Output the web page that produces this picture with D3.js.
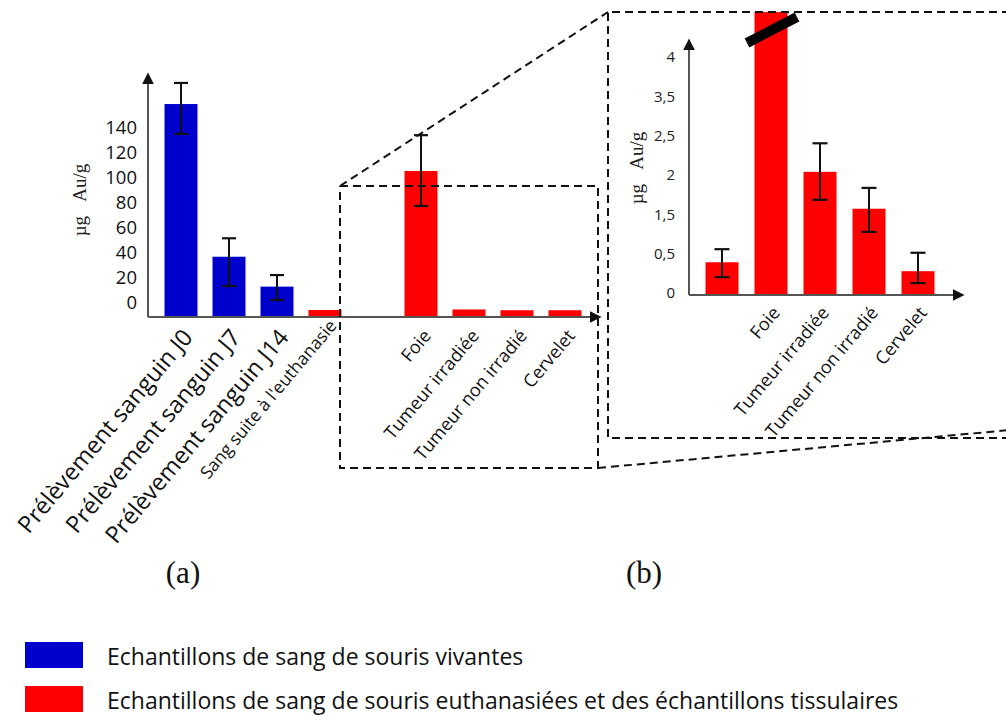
<!DOCTYPE html>
<html><head><meta charset="utf-8">
<script src="https://cdn.jsdelivr.net/npm/d3@7"></script>
<style>body{margin:0;background:#fff} svg{display:block}</style>
</head><body>
<svg id="c" width="1006" height="716"></svg>
<script>
// ---------- data ----------
const leftCategories = ["Prélèvement sanguin J0","Prélèvement sanguin J7","Prélèvement sanguin J14","Sang suite à l'euthanasie","Foie","Tumeur irradiée","Tumeur non irradié","Cervelet"];
const leftValues  = [168.8, 47.2, 23.4, 4.8, 115.5, 5.2, 4.6, 4.6];
const leftErrLow  = [145, 23.9, 12.7, null, 87.6, null, null, null];
const leftErrHigh = [185.6, 61.9, 32.6, null, 144, null, null, null];
const leftGroup   = [0, 0, 0, 1, 1, 1, 1, 1];
const leftTicks   = [0, 20, 40, 60, 80, 100, 120, 140];

const rightCategories = ["Sang suite à l'euthanasie","Foie","Tumeur irradiée","Tumeur non irradié","Cervelet"];
const rightLabels     = ["","Foie","Tumeur irradiée","Tumeur non irradié","Cervelet"];
const rightValues     = [0.55, 115.5, 2.07, 1.45, 0.40];
const rightErrLow     = [0.30, null, 1.60, 1.06, 0.20];
const rightErrHigh    = [0.77, null, 2.55, 1.80, 0.71];
const rightTickLabels = ["0","0,5","1,5","2","2,5","3,5","4"];

const legendLabels = ["Echantillons de sang de souris vivantes","Echantillons de sang de souris euthanasiées et des échantillons tissulaires"];
const groupColors  = ["#0000cc","#ff0000"];
const yTitle = "µg\u00a0\u00a0\u00a0Au/g";

// ---------- drawing ----------
const svg = d3.select("#c");
const SANS = "'Open Sans', Lato, sans-serif";
const SERIF = "'Liberation Serif', 'DejaVu Serif', serif";
const AXC = "#555";

const defs = svg.append("defs");
defs.append("marker").attr("id","arr").attr("viewBox","0 0 10 10").attr("refX",2).attr("refY",5)
  .attr("markerWidth",6).attr("markerHeight",6).attr("orient","auto")
  .append("path").attr("d","M0,0 L10,5 L0,10 z").attr("fill","#111");

// ---- left panel ----
const yL = d3.scaleLinear().domain([0,185]).range([316, 316-185*1.2557]);
const slotDomain = [...leftCategories.slice(0,4), "__gap", ...leftCategories.slice(4)];
const xL = d3.scalePoint().domain(slotDomain).range([181,565]);
const BW = 33;

const gL = svg.append("g");
gL.selectAll("rect.bar").data(leftCategories).join("rect")
  .attr("x", d=>xL(d)-BW/2).attr("width",BW)
  .attr("y",(d,i)=>yL(leftValues[i])).attr("height",(d,i)=>yL(0)-yL(leftValues[i]))
  .attr("fill",(d,i)=>groupColors[leftGroup[i]]);

function errBars(g, cats, lo, hi, x, y, cap){
  cats.forEach((c,i)=>{
    if(lo[i]==null) return;
    const cx = x(c);
    g.append("line").attr("x1",cx).attr("x2",cx).attr("y1",y(lo[i])).attr("y2",y(hi[i]))
      .attr("stroke","#111").attr("stroke-width",2);
    [lo[i],hi[i]].forEach(v=>g.append("line").attr("x1",cx-cap/2).attr("x2",cx+cap/2)
      .attr("y1",y(v)).attr("y2",y(v)).attr("stroke","#111").attr("stroke-width",2.2));
  });
}
errBars(gL, leftCategories, leftErrLow, leftErrHigh, xL, yL, 14);

gL.append("line").attr("x1",148).attr("x2",148).attr("y1",yL(0)+1).attr("y2",82)
  .attr("stroke",AXC).attr("stroke-width",2).attr("marker-end","url(#arr)");
gL.append("line").attr("x1",148).attr("x2",592).attr("y1",yL(0)+1).attr("y2",yL(0)+1)
  .attr("stroke",AXC).attr("stroke-width",2).attr("marker-end","url(#arr)");

const axL = gL.append("g").attr("transform","translate(137,-13)")
  .call(d3.axisLeft(yL).tickValues(leftTicks).tickSize(0).tickPadding(0));
axL.select(".domain").remove();
axL.selectAll("text").attr("font-family",SANS).attr("font-size",18.5).attr("fill","#111");

const leftLabelSize = [23.5,23.5,23.5,17.5,18,18,18,18];
gL.selectAll("text.xl").data(leftCategories).join("text")
  .attr("class","xl")
  .attr("transform",(d,i)=>`translate(${xL(d)+ (i<3?0:(i==3?3:1))},${yL(0)+(i<3?11:(i==3?2:12))}) rotate(-50)`)
  .attr("text-anchor","end").attr("dy","0.72em")
  .attr("font-family",SANS).attr("font-size",(d,i)=>leftLabelSize[i]).attr("fill","#111")
  .text(d=>d);

svg.append("text").attr("transform","translate(79,200) rotate(-90)")
  .attr("text-anchor","middle").attr("dy","0.35em")
  .attr("font-family",SERIF).attr("font-size",19).attr("fill","#222").text(yTitle);

// ---- right panel ----
const yR = d3.scaleLinear().domain([0,4]).range([295,57]);
const xR = d3.scalePoint().domain(rightCategories).range([722,918]);
const gR = svg.append("g");
defs.append("clipPath").attr("id","clipR").append("rect")
  .attr("x",608).attr("y",12).attr("width",400).attr("height",300);
gR.append("g").attr("clip-path","url(#clipR)")
  .selectAll("rect").data(rightCategories).join("rect")
  .attr("x",d=>xR(d)-BW/2).attr("width",BW)
  .attr("y",(d,i)=>yR(rightValues[i])).attr("height",(d,i)=>yR(0)-yR(rightValues[i]))
  .attr("fill",groupColors[1]);
errBars(gR, rightCategories, rightErrLow, rightErrHigh, xR, yR, 15);

const fx = xR("Foie");
gR.append("line").attr("x1",fx-24).attr("y1",43).attr("x2",fx+26).attr("y2",17)
  .attr("stroke","#000").attr("stroke-width",10);

gR.append("line").attr("x1",689).attr("x2",689).attr("y1",yR(0)).attr("y2",48)
  .attr("stroke",AXC).attr("stroke-width",2).attr("marker-end","url(#arr)");
gR.append("line").attr("x1",689).attr("x2",955).attr("y1",yR(0)).attr("y2",yR(0))
  .attr("stroke",AXC).attr("stroke-width",2).attr("marker-end","url(#arr)");

const tickPos = d3.scalePoint().domain(rightTickLabels).range([293,57]);
const axR = gR.append("g").attr("transform","translate(675,0)")
  .call(d3.axisLeft(tickPos).tickSize(0).tickPadding(0));
axR.select(".domain").remove();
axR.selectAll("text").attr("font-family",SANS).attr("font-size",15).attr("fill","#222");

gR.selectAll("text.xr").data(rightCategories).join("text").attr("class","xr")
  .attr("transform",d=>`translate(${xR(d)},${yR(0)+10}) rotate(-50)`)
  .attr("text-anchor","end").attr("dy","0.72em")
  .attr("font-family",SANS).attr("font-size",18).attr("fill","#111")
  .text((d,i)=>rightLabels[i]);

svg.append("text").attr("transform","translate(636,168) rotate(-90)")
  .attr("text-anchor","middle").attr("dy","0.35em")
  .attr("font-family",SERIF).attr("font-size",19).attr("fill","#222").text(yTitle);

// ---- zoom dashed frames ----
const dash = {stroke:"#111","stroke-width":2,"stroke-dasharray":"8,5",fill:"none"};
function dl(pts){ const p = svg.append("path").attr("d", d3.line()(pts)); Object.entries(dash).forEach(([k,v])=>p.attr(k,v)); }
dl([[340,186],[598,186],[598,468],[340,468],[340,186]]);
dl([[1010,12],[608,12],[608,438],[1010,438]]);
dl([[340,186],[608,12]]);
dl([[598,468],[1010,430]]);

// ---- panel letters ----
svg.append("text").attr("x",183).attr("y",583).attr("text-anchor","middle")
  .attr("font-family",SERIF).attr("font-size",31).attr("fill","#111").text("(a)");
svg.append("text").attr("x",644).attr("y",583).attr("text-anchor","middle")
  .attr("font-family",SERIF).attr("font-size",31).attr("fill","#111").text("(b)");

// ---- legend ----
const lg = svg.append("g");
legendLabels.forEach((t,i)=>{
  lg.append("rect").attr("x",25).attr("y",642+i*44).attr("width",58).attr("height",26).attr("fill",groupColors[i]);
  lg.append("text").attr("x",107).attr("y",665+i*44).attr("font-family",SANS).attr("font-size",23)
    .attr("fill","#111").text(t);
});
</script>
</body></html>
